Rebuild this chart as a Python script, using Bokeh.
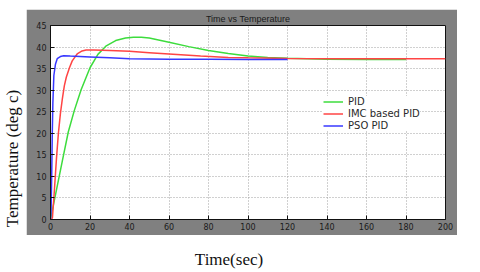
from math import pi
from bokeh.plotting import figure
from bokeh.layouts import column, row
from bokeh.models import Range1d, FixedTicker, Label, Legend, LegendItem, Spacer
from bokeh.embed import file_html
from bokeh.resources import INLINE

# ---- data ----
t_pid = [0, 1, 3, 6, 9, 12, 15.5, 20, 24, 28, 33, 38, 42, 46, 50, 60, 70, 80, 90, 100, 110, 120, 140, 160, 180]
v_pid = [0, 2.3, 6.8, 13.6, 20.3, 25.2, 30.1, 35.2, 38.3, 40.2, 41.5, 42.1, 42.3, 42.3, 42.1, 41.1, 40.1, 39.2, 38.5, 37.9, 37.6, 37.4, 37.2, 37.1, 37.1]

t_imc = [0, 0.5, 1, 2, 3, 4, 5, 6, 7, 8, 9.6, 11, 13.5, 16, 18, 22, 30, 40, 50, 60, 76, 90, 100, 120, 150, 200]
v_imc = [0, 0, 0.5, 7, 14, 20, 24.5, 28, 31, 33, 35.2, 36.8, 38.4, 39.1, 39.3, 39.3, 39.2, 39.0, 38.7, 38.4, 37.9, 37.6, 37.5, 37.35, 37.3, 37.3]

t_pso = [0, 0.3, 0.6, 0.9, 1.2, 1.7, 2.5, 3.4, 5, 6.7, 10, 20, 30, 40, 60, 80, 100, 120]
v_pso = [0, 2, 10, 20, 27, 33.4, 36, 37.3, 37.8, 38.0, 37.9, 37.7, 37.5, 37.3, 37.2, 37.2, 37.1, 37.1]

x_ticks = [0, 20, 40, 60, 80, 100, 120, 140, 160, 180, 200]
y_ticks = [0, 5, 10, 15, 20, 25, 30, 35, 40, 45]

series_names = ["PID", "IMC based PID", "PSO PID"]
title_text = "Time vs Temperature"
x_label = "Time(sec)"
y_label = "Temperature (deg c)"

GRAY = "#808080"

# ---- main plot: its border is the gray panel ----
p = figure(width=431, height=226, output_backend="svg", toolbar_location=None,
           x_range=Range1d(0, 200), y_range=Range1d(0, 45),
           min_border_left=24, min_border_right=12, min_border_top=14, min_border_bottom=16,
           background_fill_color="white", border_fill_color=GRAY,
           outline_line_color="#111111")

p.title.text = title_text
p.title.align = "center"
p.title.text_font = "Liberation Sans"
p.title.text_font_size = "9px"
p.title.text_font_style = "normal"
p.title.text_color = "#1a1a1a"
p.title.standoff = 4

for ax in (p.xaxis, p.yaxis):
    ax.major_tick_in = 4
    ax.major_tick_out = 0
    ax.minor_tick_line_color = None
    ax.axis_line_color = "#111111"
    ax.major_tick_line_color = "#111111"
    ax.major_label_text_font = "DejaVu Sans"
    ax.major_label_text_font_size = "8px"
    ax.major_label_text_color = "#1a1a1a"
p.xaxis.ticker = FixedTicker(ticks=x_ticks)
p.yaxis.ticker = FixedTicker(ticks=y_ticks)
p.xaxis.major_label_standoff = 3
p.yaxis.major_label_standoff = 4

p.grid.grid_line_color = "#a0a0a0"
p.grid.grid_line_dash = "1 2"
p.grid.grid_line_width = 1
p.xgrid.ticker = FixedTicker(ticks=x_ticks)
p.ygrid.ticker = FixedTicker(ticks=y_ticks)

r_pid = p.line(t_pid, v_pid, line_color="#3ddc3d", line_width=1.5)
r_imc = p.line(t_imc, v_imc, line_color="#ff4444", line_width=1.5)
r_pso = p.line(t_pso, v_pso, line_color="#3838ff", line_width=1.5)

legend = Legend(items=[LegendItem(label=series_names[0], renderers=[r_pid]),
                       LegendItem(label=series_names[1], renderers=[r_imc]),
                       LegendItem(label=series_names[2], renderers=[r_pso])],
                location=(273, 88), padding=0, margin=0, spacing=1,
                glyph_width=20, glyph_height=11, label_height=11, label_standoff=5,
                border_line_color=None, background_fill_color="white", background_fill_alpha=1.0,
                label_text_font="DejaVu Sans", label_text_font_size="10px",
                label_text_color="#2a2a2a")
p.add_layout(legend)

# ---- y-axis label strip (white, full height, left of the panel) ----
ylab = figure(width=26, height=272, output_backend="svg", toolbar_location=None,
              x_range=Range1d(0, 26), y_range=Range1d(0, 272),
              x_axis_location=None, y_axis_location=None, min_border=0,
              outline_line_color=None, background_fill_color="white", border_fill_color="white")
ylab.grid.visible = False
ylab.add_layout(Label(x=11.5, y=114, text=y_label, angle=pi / 2,
                      text_align="center", text_baseline="middle",
                      text_font="Liberation Serif", text_font_size="17px", text_color="#111111"))

# ---- x-axis label strip (white, below the panel) ----
xlab = figure(width=454, height=37, output_backend="svg", toolbar_location=None,
              x_range=Range1d(0, 454), y_range=Range1d(0, 37),
              x_axis_location=None, y_axis_location=None, min_border=0,
              outline_line_color=None, background_fill_color="white", border_fill_color="white")
xlab.grid.visible = False
xlab.add_layout(Label(x=202.5, y=13.5, text=x_label,
                      text_align="center", text_baseline="middle",
                      text_font="Liberation Serif", text_font_size="17px", text_color="#111111"))

layout = row(ylab,
             column(Spacer(width=454, height=9),
                    row(p, Spacer(width=23, height=226)),
                    xlab))

open("out.html", "w").write(file_html(layout, INLINE))
